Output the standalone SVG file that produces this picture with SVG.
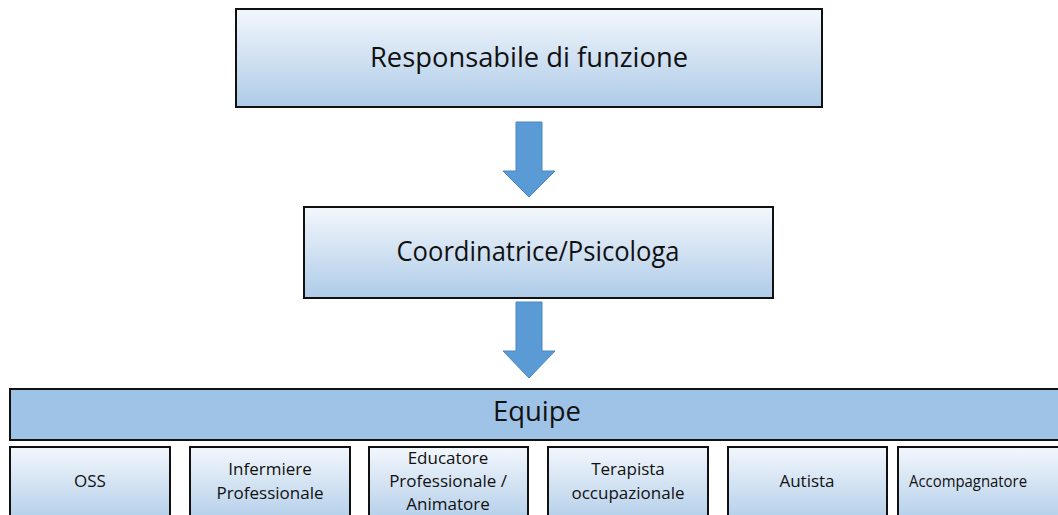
<svg xmlns="http://www.w3.org/2000/svg" width="1058" height="515" viewBox="0 0 1058 515">
<defs>
<linearGradient id="g" x1="0" y1="0" x2="0" y2="1">
<stop offset="0" stop-color="#f3f7fc"/>
<stop offset="1" stop-color="#aecbe8"/>
</linearGradient>
</defs>
<style>
.box{fill:url(#g);stroke:#111;stroke-width:2}
.bar{fill:#9fc3e7;stroke:#111;stroke-width:2}
.arr{fill:#5b9bd5;stroke:#4a87c0;stroke-width:1}
text{font-family:"Open Sans","Liberation Sans",sans-serif;fill:#111;text-anchor:middle}
.big{font-size:27px}
.sm{font-size:17px}
</style>
<rect width="1058" height="515" fill="#fff"/>
<g id="responsabile">
<rect class="box" x="236" y="9" width="586" height="98"/>
<text class="big" x="529" y="67" textLength="318" lengthAdjust="spacingAndGlyphs">Responsabile di funzione</text>
</g>
<g id="coordinatrice">
<rect class="box" x="304" y="207" width="469" height="91"/>
<text class="big" x="538" y="261" textLength="283" lengthAdjust="spacingAndGlyphs">Coordinatrice/Psicologa</text>
</g>
<g id="equipe">
<rect class="bar" x="10" y="389" width="1060" height="51"/>
<text class="big" x="537" y="421" textLength="88" lengthAdjust="spacingAndGlyphs">Equipe</text>
</g>
<g id="oss">
<rect class="box" x="10" y="447" width="160" height="80"/>
<text class="sm" x="90" y="487">OSS</text>
</g>
<g id="infermiere">
<rect class="box" x="190" y="447" width="160" height="80"/>
<text class="sm" x="270" y="475">Infermiere</text>
<text class="sm" x="270" y="499">Professionale</text>
</g>
<g id="educatore">
<rect class="box" x="369" y="447" width="159" height="80"/>
<text class="sm" x="448" y="464">Educatore</text>
<text class="sm" x="448" y="487">Professionale /</text>
<text class="sm" x="448" y="510">Animatore</text>
</g>
<g id="terapista">
<rect class="box" x="548" y="447" width="160" height="80"/>
<text class="sm" x="628" y="475">Terapista</text>
<text class="sm" x="628" y="499">occupazionale</text>
</g>
<g id="autista">
<rect class="box" x="728" y="447" width="159" height="80"/>
<text class="sm" x="807" y="487">Autista</text>
</g>
<g id="accompagnatore">
<rect class="box" x="898" y="447" width="170" height="80"/>
<text class="sm" x="968" y="487" textLength="118" lengthAdjust="spacingAndGlyphs">Accompagnatore</text>
</g>
<g id="connectors">
<polygon class="arr" points="516,122 542,122 542,171 555,171 529,197 503,171 516,171"/>
<polygon class="arr" points="516,302 542,302 542,351 555,351 529,378 503,351 516,351"/>
</g>
</svg>
